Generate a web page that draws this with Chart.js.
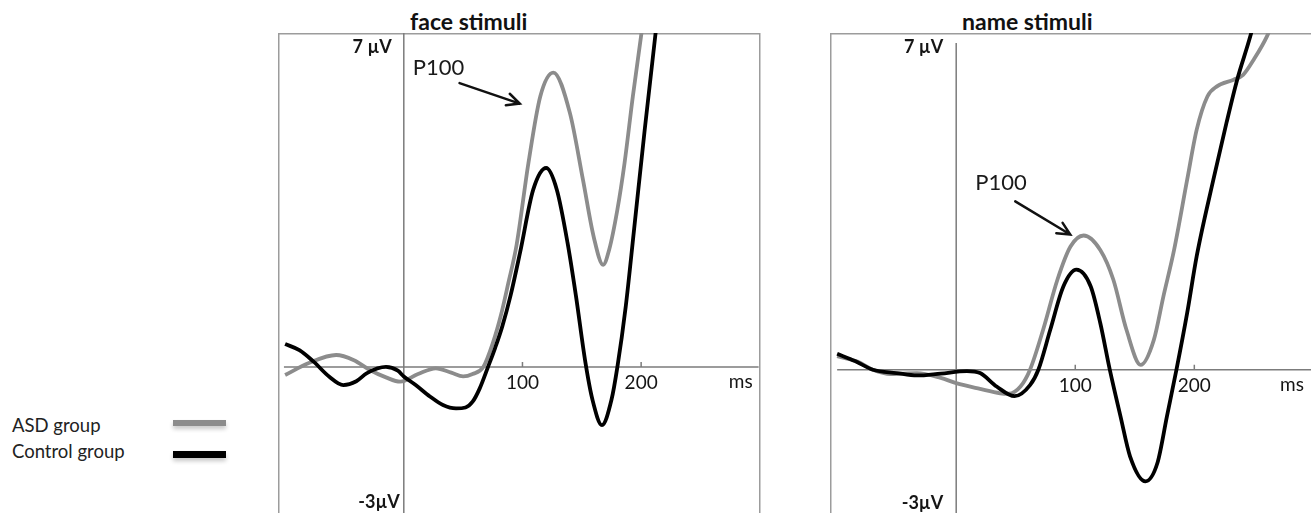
<!DOCTYPE html>
<html>
<head>
<meta charset="utf-8">
<script src="https://cdn.jsdelivr.net/npm/chart.js@4.4.1/dist/chart.umd.min.js"></script>
<style>
body { margin: 0; background: #fff; font-family: Lato, 'Open Sans', sans-serif; }
#page { position: relative; width: 1311px; height: 513px; overflow: hidden; }
canvas { position: absolute; }
.title { position: absolute; top: 10px; font-weight: bold; font-size: 23px; line-height: 23px; color: #111; white-space: nowrap; }
.legend-row { position: absolute; left: 12px; font-size: 18.5px; line-height: 18.5px; color: #222; white-space: nowrap; }
.swatch { position: absolute; left: 173px; width: 53px; box-shadow: 0 3px 4px rgba(0,0,0,0.22); }
</style>
</head>
<body>
<div id="page">
  <div class="title" id="title-face" style="left:410px"></div>
  <div class="title" id="title-name" style="left:962px"></div>
  <div class="legend-row" id="leg-asd" style="top:416px"></div>
  <div class="legend-row" id="leg-ctrl" style="top:442px"></div>
  <div class="swatch" style="top:420px;height:6px;background:#8c8c8c"></div>
  <div class="swatch" style="top:451px;height:7px;background:#000"></div>
  <canvas id="face-chart" width="483" height="480" style="left:278px;top:33px"></canvas>
  <canvas id="name-chart" width="481" height="481" style="left:830px;top:33px"></canvas>
</div>
<script>
// values (ms, µV)
var panelTitles = ['face stimuli', 'name stimuli'];
var seriesNames = ['ASD group', 'Control group'];
var xTickValues = [100, 200];
var xUnit = 'ms';
var yTopLabel = '7 µV';
var yBottomLabel = '-3µV';
var annotationText = 'P100';

var faceAsdMs = [-100, -80, -57, -42, -29, -15, -3, 12, 27, 40, 50, 58, 67, 75, 82, 88, 95, 105, 115, 126, 140, 151, 160, 168, 173, 180, 186, 193, 200, 210];
var faceAsdUv = [-0.17, 0.08, 0.25, 0.14, -0.06, -0.22, -0.31, -0.15, -0.03, -0.12, -0.2, -0.15, 0, 0.5, 1.1, 1.75, 2.55, 4.27, 5.67, 6.17, 5.32, 3.92, 2.73, 2.14, 2.45, 3.3, 4.27, 5.67, 6.95, 8.6];

var faceCtrlMs = [-100, -88, -76, -63, -51, -40, -31, -15, -5, 0, 10, 22, 33, 44, 52, 58, 64, 71, 77, 83, 90, 98, 109, 120, 129, 138, 145, 153, 159, 167, 175, 180, 187, 194, 203, 212, 222];
var faceCtrlUv = [0.48, 0.35, 0.11, -0.2, -0.38, -0.3, -0.13, 0.0, -0.08, -0.2, -0.38, -0.62, -0.8, -0.87, -0.85, -0.73, -0.45, 0, 0.4, 0.85, 1.5, 2.4, 3.71, 4.17, 3.71, 2.6, 1.5, 0.1, -0.69, -1.22, -0.69, 0, 1.26, 2.87, 4.97, 6.96, 9.0];

var nameAsdMs = [-100, -83, -70, -55, -33, -13, 0, 20, 37, 44, 54, 62, 73, 85, 96, 107, 121, 132, 143, 155, 166, 174, 183, 194, 202, 211, 219, 233, 241, 250, 261, 272];
var nameAsdUv = [0.28, 0.17, 0, -0.09, -0.07, -0.17, -0.28, -0.4, -0.49, -0.5, -0.35, 0, 0.83, 1.87, 2.56, 2.79, 2.49, 1.87, 0.83, 0.1, 0.62, 1.52, 2.49, 3.95, 4.99, 5.68, 5.89, 6.03, 6.13, 6.45, 6.93, 7.6];

var nameCtrlMs = [-100, -85, -70, -50, -33, -13, 9, 20, 34, 49, 62, 69, 79, 90, 101, 113, 121, 129, 138, 146, 159, 169, 177, 185, 194, 202, 216, 227, 236, 247, 258];
var nameCtrlUv = [0.33, 0.18, 0, -0.07, -0.12, -0.08, -0.03, -0.07, -0.35, -0.55, -0.32, 0, 0.83, 1.73, 2.08, 1.73, 0.97, 0, -0.97, -1.8, -2.32, -1.94, -0.97, 0, 1.18, 2.36, 3.95, 5.13, 6.03, 6.93, 8.0];

function toPoints(ms, uv) {
    return ms.map(function (t, i) { return { x: t, y: uv[i] }; });
}

// axes, frame, labels and the P100 arrow, placed through the chart scales
var erpFrame = {
    id: 'erpFrame',
    beforeDatasetsDraw: function (chart, args, opts) {
        var ctx = chart.ctx, a = chart.chartArea;
        var x = chart.scales.x, y = chart.scales.y;
        var h = chart.height;
        var x0 = x.getPixelForValue(0), y0 = y.getPixelForValue(0);
        ctx.save();
        ctx.strokeStyle = '#9c9c9c';
        ctx.lineWidth = 1.5;
        ctx.beginPath();
        ctx.moveTo(a.left + 0.75, h);
        ctx.lineTo(a.left + 0.75, a.top + 0.75);
        if (opts.boxRight) {
            ctx.lineTo(a.right - 1.25, a.top + 0.75);
            ctx.lineTo(a.right - 1.25, h);
        } else {
            ctx.lineTo(chart.width, a.top + 0.75);
        }
        ctx.stroke();

        ctx.strokeStyle = '#7c7c7c';
        ctx.beginPath();
        ctx.moveTo(x0, a.top + opts.axisGap);
        ctx.lineTo(x0, h);
        ctx.moveTo(x.getPixelForValue(opts.zeroFrom), y0);
        ctx.lineTo(x.getPixelForValue(opts.zeroTo), y0);
        xTickValues.forEach(function (v) {
            var px = x.getPixelForValue(v);
            ctx.moveTo(px, y0 - 5);
            ctx.lineTo(px, y0);
        });
        ctx.stroke();
        ctx.restore();
    },
    afterDatasetsDraw: function (chart, args, opts) {
        var ctx = chart.ctx;
        var x = chart.scales.x, y = chart.scales.y;
        var x0 = x.getPixelForValue(0), y0 = y.getPixelForValue(0);
        ctx.save();
        ctx.fillStyle = '#151515';
        ctx.textBaseline = 'alphabetic';

        ctx.font = '19px Lato';
        ctx.textAlign = 'center';
        xTickValues.forEach(function (v) {
            ctx.fillText(String(v), x.getPixelForValue(v), y0 + 22);
        });
        ctx.textAlign = 'right';
        ctx.fillText(xUnit, x.getPixelForValue(opts.unitAt), y0 + 21);

        ctx.font = 'bold 18px Lato';
        ctx.fillText(yTopLabel, x0 - opts.topLabelGap, y.getPixelForValue(y.max) + 20);
        ctx.fillText(yBottomLabel, x0 - opts.bottomLabelGap, chart.height - 5);

        var p = opts.p100;
        ctx.font = '22px Lato';
        ctx.textAlign = 'left';
        ctx.fillStyle = '#1a1a1a';
        ctx.fillText(annotationText, x.getPixelForValue(p.text[0]), y.getPixelForValue(p.text[1]));

        var fx = x.getPixelForValue(p.from[0]), fy = y.getPixelForValue(p.from[1]);
        var tx = x.getPixelForValue(p.to[0]), ty = y.getPixelForValue(p.to[1]);
        var ang = Math.atan2(ty - fy, tx - fx);
        ctx.strokeStyle = '#111';
        ctx.lineWidth = 2.5;
        ctx.lineCap = 'round';
        ctx.beginPath();
        ctx.moveTo(fx, fy);
        ctx.lineTo(tx, ty);
        ctx.moveTo(tx - 14 * Math.cos(ang - 0.45), ty - 14 * Math.sin(ang - 0.45));
        ctx.lineTo(tx, ty);
        ctx.lineTo(tx - 14 * Math.cos(ang + 0.45), ty - 14 * Math.sin(ang + 0.45));
        ctx.stroke();
        ctx.restore();
    }
};

function makeChart(id, asd, ctrl, xMin, xMax, padBottom, frame) {
    return new Chart(document.getElementById(id), {
        type: 'line',
        data: {
            datasets: [{
                label: seriesNames[1],
                data: ctrl,
                borderColor: '#000',
                borderWidth: 3.8,
                pointRadius: 0,
                cubicInterpolationMode: 'monotone',
                clip: 0
            }, {
                label: seriesNames[0],
                data: asd,
                borderColor: '#8c8c8c',
                borderWidth: 3.8,
                pointRadius: 0,
                cubicInterpolationMode: 'monotone',
                clip: 0
            }]
        },
        plugins: [erpFrame],
        options: {
            responsive: false,
            animation: false,
            devicePixelRatio: 1,
            layout: { padding: { left: 0, right: 0, top: 0, bottom: padBottom } },
            plugins: {
                legend: { display: false },
                tooltip: { enabled: false },
                erpFrame: frame
            },
            scales: {
                x: { type: 'linear', min: xMin, max: xMax, display: false },
                y: { type: 'linear', min: -3, max: 7, display: false }
            }
        }
    });
}

document.getElementById('title-face').textContent = panelTitles[0];
document.getElementById('title-name').textContent = panelTitles[1];
document.getElementById('leg-asd').textContent = seriesNames[0];
document.getElementById('leg-ctrl').textContent = seriesNames[1];

makeChart('face-chart', toPoints(faceAsdMs, faceAsdUv), toPoints(faceCtrlMs, faceCtrlUv), -106, 301, 3, {
    boxRight: true, axisGap: 0, zeroFrom: -101, zeroTo: 299,
    unitAt: 294, topLabelGap: 12, bottomLabelGap: 4,
    p100: { text: [7.6, 6.12], from: [47, 5.95], to: [97.7, 5.52] }
});

makeChart('name-chart', toPoints(nameAsdMs, nameAsdUv), toPoints(nameCtrlMs, nameCtrlUv), -106, 298, 0, {
    boxRight: false, axisGap: 10, zeroFrom: -100, zeroTo: 298,
    unitAt: 292, topLabelGap: 13, bottomLabelGap: 13,
    p100: { text: [16, 3.73], from: [49.6, 3.5], to: [95.8, 2.81] }
});
</script>
</body>
</html>
